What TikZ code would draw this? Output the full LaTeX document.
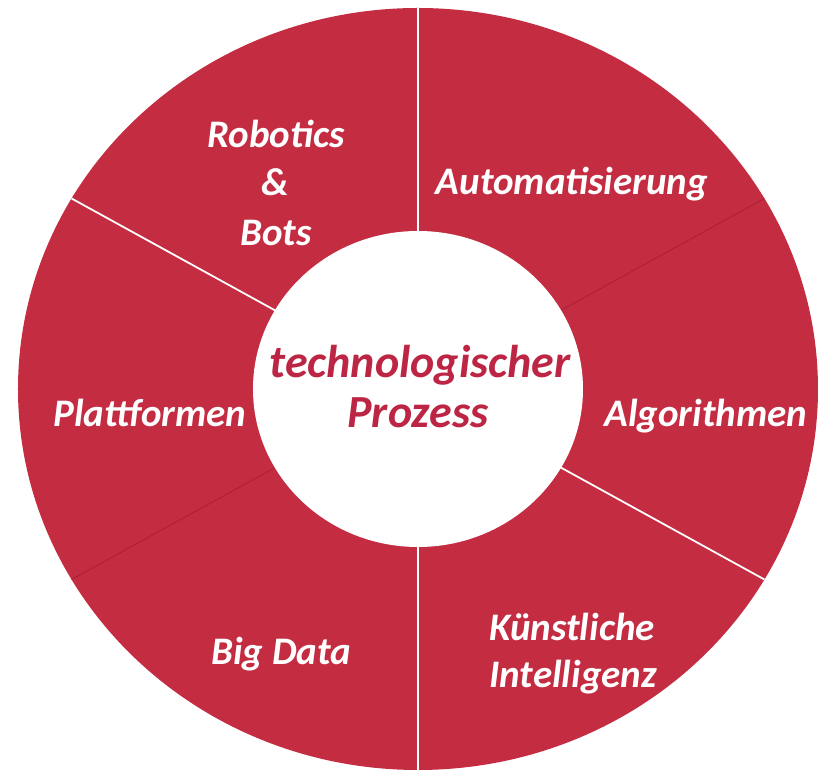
\documentclass[tikz,border=0pt]{standalone}
\usepackage{fontspec}
\setmainfont{Carlito}
\definecolor{ringred}{RGB}{196,44,66}
\definecolor{hubred}{RGB}{188,38,68}
\definecolor{seamred}{RGB}{172,30,52}
\tikzset{segtext/.style={text=white, anchor=base, inner sep=0pt, font=\fontsize{19.5}{24}\selectfont\bfseries\itshape},
%text in the white hub
hubtext/.style={text=hubred, anchor=base, inner sep=0pt, font=\fontsize{23}{25}\selectfont\bfseries\itshape},
seam/.style={white, line width=0.9pt}}

\begin{document}
\begin{tikzpicture}[x=0.5pt,y=0.5pt]
\useasboundingbox (-418,-386) rectangle (403,389);
% ring
\fill [ringred] (0,0) ellipse [x radius=400, y radius=381];

%seams
\foreach \a in {90,150,270,330}
     \draw [seam] (0,0) -- ({400*cos(\a)},{381*sin(\a)});
\foreach \a in {30,210}
     \draw [seamred, line width=0.4pt] (0,0) -- ({400*cos(\a)},{381*sin(\a)});

% hub
\fill [white] (0,0) ellipse [x radius=165, y radius=158];

%labels
\node [segtext] (robotics) at (-142,241) {Robotics};
\node [segtext] (amp) at (-143,193) {\&};
\node [segtext] (bots) at (-142,143) {Bots};
\node [segtext] (automat) at (154,194) {Automatisierung};
\node [segtext] (algo) at (288,-38) {Algorithmen};
\node [segtext] (platt) at (-268,-38) {Plattformen};
\node [segtext] (bigdata) at (-137,-276) {Big Data};
\node [segtext] (kuenst) at (154,-252) {Künstliche};
\node [segtext] (intell) at (155,-299) {Intelligenz};

\node [hubtext] (techno) at (2,11) {technologischer};
\node [hubtext] (prozess) at (0,-39) {Prozess};
\end{tikzpicture}
\end{document}
